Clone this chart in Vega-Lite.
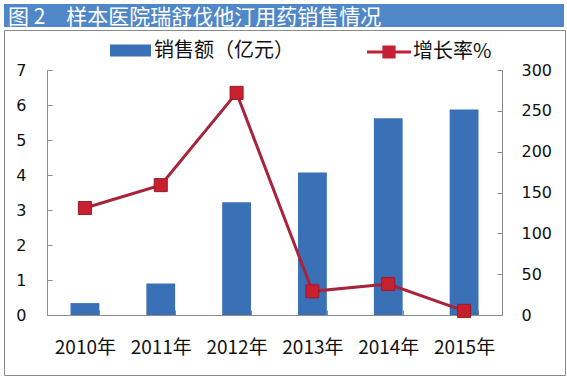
{
  "$schema": "https://vega.github.io/schema/vega-lite/v6.json",
  "padding": {"top": 4, "left": 3, "right": 0, "bottom": 0},
  "background": "white",
  "spacing": 1,
  "columns": 1,
  "config": {"view": {"stroke": null}, "font": "Noto Sans CJK SC"},
  "resolve": {"legend": {"fill": "independent", "stroke": "independent"}, "scale": {"fill": "independent", "stroke": "independent"}},
  "concat": [
    {
      "width": 560,
      "height": 23,
      "view": {"fill": "#4f87c9", "stroke": null},
      "title": {"text": "图 2\u3000样本医院瑞舒伐他汀用药销售情况", "anchor": "start", "frame": "group", "orient": "top", "offset": -24, "dx": 4, "fontSize": 21, "fontWeight": "normal", "color": "#ffffff", "font": "Noto Sans CJK SC"},
      "data": {"values": [{"k": 1}]},
      "mark": {"type": "point", "opacity": 0},
      "encoding": {}
    },
    {
      "width": 561,
      "height": 345,
      "view": {"stroke": "#8a8a8a", "strokeWidth": 1, "fill": "#ffffff"},
      "data": {"values": [
        {"year": "2010年", "sales": 0.34, "growth": 131},
        {"year": "2011年", "sales": 0.9, "growth": 159},
        {"year": "2012年", "sales": 3.22, "growth": 272},
        {"year": "2013年", "sales": 4.07, "growth": 29},
        {"year": "2014年", "sales": 5.62, "growth": 38},
        {"year": "2015年", "sales": 5.87, "growth": 5}
      ]},
      "encoding": {
        "x": {"field": "year", "type": "nominal", "sort": null,
          "scale": {"range": [43, 498], "paddingInner": 0.62, "paddingOuter": 0.31},
          "axis": {"title": null, "offset": -60, "labelAngle": 0, "labelFontSize": 19, "labelFont": "Noto Sans CJK SC", "labelColor": "#111111", "labelPadding": 28, "tickBand": "extent", "tickSize": -5, "tickColor": "#8c8c8c", "domainColor": "#8c8c8c"}}
      },
      "layer": [
        {
          "mark": {"type": "bar"},
          "encoding": {
            "y": {"field": "sales", "type": "quantitative", "scale": {"domain": [0, 7], "range": [285, 40]},
              "axis": {"title": null, "offset": -43, "values": [0,1,2,3,4,5,6,7], "grid": false, "tickSize": -5, "labelPadding": 26, "labelFontSize": 16, "labelFont": "DejaVu Sans", "labelColor": "#111111", "domainColor": "#8c8c8c", "tickColor": "#8c8c8c"}},
            "fill": {"datum": "销售额（亿元）", "scale": {"range": ["#3a70b6"]},
              "legend": {"orient": "none", "legendX": 106, "legendY": 0, "title": null, "symbolType": "M-1,-0.29H1V0.29H-1Z", "symbolSize": 1681, "symbolStrokeWidth": 0, "labelFontSize": 20, "labelFont": "Noto Sans CJK SC", "labelColor": "#111111", "labelOffset": 3}}
          }
        },
        {
          "layer": [
            {
              "mark": {"type": "line", "strokeWidth": 3},
              "encoding": {
                "y": {"field": "growth", "type": "quantitative", "scale": {"domain": [0, 300], "range": [285, 40]},
                  "axis": {"orient": "right", "offset": -63, "title": null, "values": [0,50,100,150,200,250,300], "grid": false, "tickSize": -5, "labelPadding": 24, "labelFontSize": 16, "labelFont": "DejaVu Sans", "labelColor": "#111111", "domainColor": "#8c8c8c", "tickColor": "#8c8c8c"}},
                "stroke": {"datum": "增长率%", "scale": {"range": ["#a8243a"]},
                  "legend": {"orient": "none", "legendX": 363, "legendY": 0, "title": null, "symbolType": "M-1,-0.07H1V0.07H-1Z M-0.3,-0.3H0.3V0.3H-0.3Z", "symbolSize": 1936, "labelFontSize": 20, "labelFont": "Noto Sans CJK SC", "labelColor": "#111111", "labelOffset": 2,
                    "encode": {"symbols": {"update": {"fill": {"value": "#c41f34"}, "stroke": {"value": "#a8243a"}, "strokeWidth": {"value": 0}}}}}}
              }
            },
            {
              "mark": {"type": "point", "shape": "square", "filled": true, "size": 170, "fill": "#c8202f", "stroke": "#9a1a2a", "strokeWidth": 1, "opacity": 1},
              "encoding": {"y": {"field": "growth", "type": "quantitative"}}
            }
          ]
        }
      ],
      "resolve": {"scale": {"y": "independent"}}
    }
  ]
}
